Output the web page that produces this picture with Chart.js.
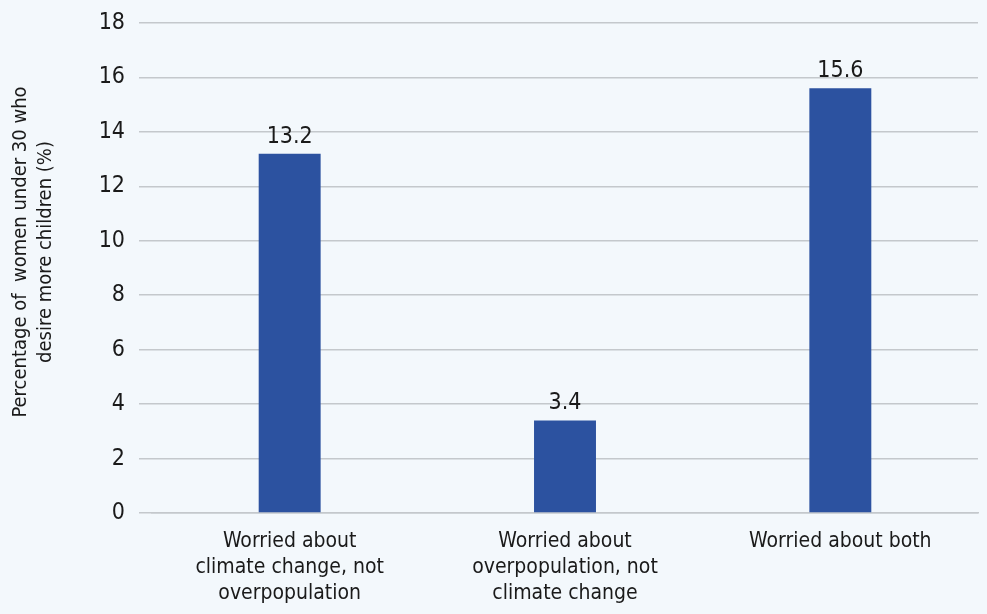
<!DOCTYPE html>
<html>
<head>
<meta charset="utf-8">
<script src="https://cdn.jsdelivr.net/npm/chart.js@4.4.1/dist/chart.umd.min.js"></script>
<style>
  html, body { margin: 0; padding: 0; background: #f3f8fc; }
  #wrap { width: 987px; height: 614px; }
</style>
</head>
<body>
<div id="wrap"><canvas id="chart"></canvas></div>
<script>
var categories = [
    ['Worried about', 'climate change, not', 'overpopulation'],
    ['Worried about', 'overpopulation, not', 'climate change'],
    'Worried about both'
];
var values = [13.2, 3.4, 15.6];
var yTitle = ['Percentage of  women under 30 who', 'desire more children (%)'];

var fontFamily = "'Liberation Sans Narrow', 'DejaVu Sans Condensed', sans-serif";

// writes the value above each bar
var valueLabels = {
    id: 'valueLabels',
    afterDatasetsDraw: function (chart) {
        var ctx = chart.ctx;
        var meta = chart.getDatasetMeta(0);
        ctx.save();
        ctx.font = '23px ' + fontFamily;
        ctx.fillStyle = '#1a1a1a';
        ctx.textAlign = 'center';
        ctx.textBaseline = 'alphabetic';
        meta.data.forEach(function (bar, i) {
            ctx.fillText(values[i].toFixed(1), bar.x, bar.y - 11);
        });
        ctx.restore();
    }
};

// rotated two-line axis title, sitting a little above the plot's middle
var axisTitle = {
    id: 'axisTitle',
    afterDraw: function (chart) {
        var ctx = chart.ctx;
        var area = chart.chartArea;
        var cy = (area.top + area.bottom) / 2 - 16;
        ctx.save();
        ctx.translate(33, cy);
        ctx.rotate(-Math.PI / 2);
        ctx.font = '20px ' + fontFamily;
        ctx.fillStyle = '#1a1a1a';
        ctx.textAlign = 'center';
        ctx.textBaseline = 'middle';
        ctx.fillText(yTitle[0], 0, -12.5);
        ctx.fillText(yTitle[1], 0, 12.5);
        ctx.restore();
    }
};

new Chart(document.getElementById('chart').getContext('2d'), {
    type: 'bar',
    data: {
        labels: categories,
        datasets: [{
            data: values,
            backgroundColor: '#2c52a0',
            categoryPercentage: 1,
            barPercentage: 0.225
        }]
    },
    options: {
        responsive: true,
        maintainAspectRatio: false,
        animation: false,
        layout: { padding: { top: 23, right: 9, left: 0, bottom: 0 } },
        plugins: {
            legend: { display: false },
            tooltip: { enabled: false }
        },
        scales: {
            x: {
                grid: { display: false },
                border: { color: '#c4c8cc', width: 1.5 },
                ticks: {
                    color: '#1a1a1a',
                    font: { family: fontFamily, size: 21, lineHeight: 1.22 },
                    padding: 8,
                    maxRotation: 0,
                    autoSkip: false
                },
                afterFit: function (scale) { scale.height = 101; }
            },
            y: {
                min: 0,
                max: 18,
                ticks: {
                    stepSize: 2,
                    color: '#1a1a1a',
                    font: { family: fontFamily, size: 23 },
                    padding: 14
                },
                grid: { color: '#c4c8cc', lineWidth: 1.5, tickLength: 13 },
                border: { display: false },
                afterFit: function (scale) {
                    scale.width = 152;
                    scale.paddingTop = 0;
                    scale.paddingBottom = 0;
                }
            }
        }
    },
    plugins: [valueLabels, axisTitle]
});
</script>
</body>
</html>
